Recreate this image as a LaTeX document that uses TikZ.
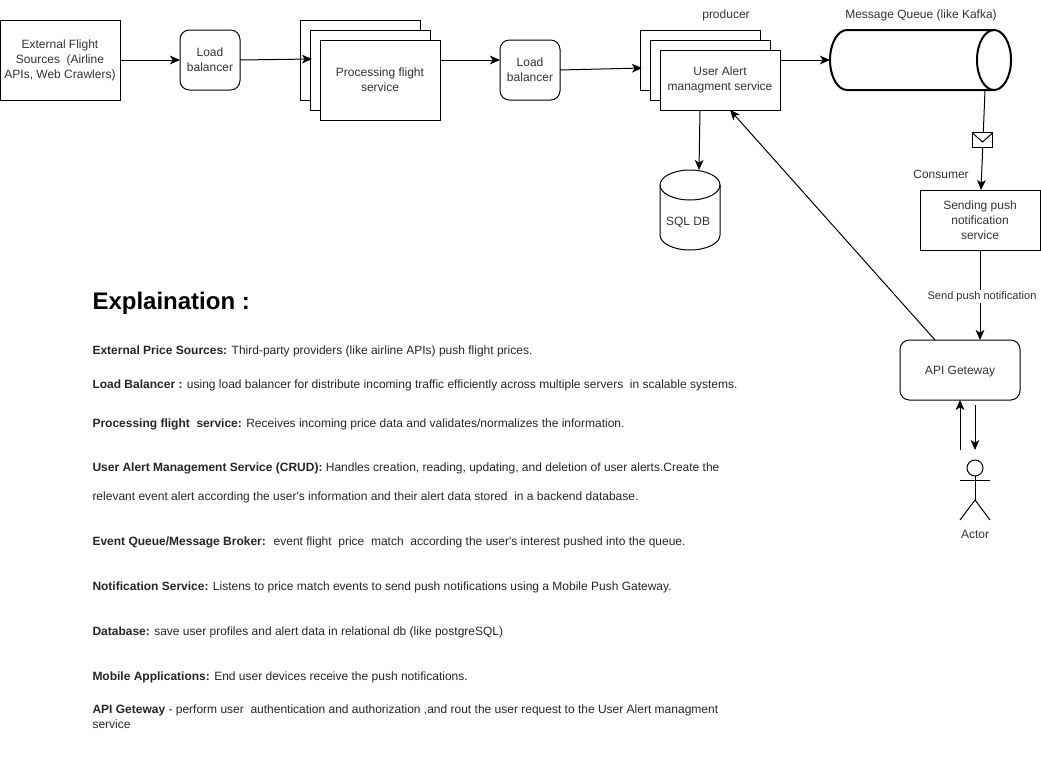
\documentclass[tikz,border=0pt]{standalone}
\usepackage{fontspec}
\setmainfont{Liberation Sans}[Ligatures=TeXOff]
\usetikzlibrary{arrows.meta}
\begin{document}
\begin{tikzpicture}
	    [x=0.75pt, y=-0.75pt, line width=0.75pt, >={Stealth[length=7.5pt,width=6.5pt,inset=2pt]},
	    box/.style={rectangle, draw, fill=white, minimum width=90pt, minimum height=45pt, inner sep=0pt, outer sep=0pt, align=center, font=\fontsize{9}{11.2}\selectfont, text=black!80, execute at begin node={\rule{0pt}{8.5pt}}},
	    tallbox/.style={box, minimum height=60pt},
	    lb/.style={box, rounded corners=7pt, minimum width=45pt, minimum height=45pt},
	    lbl/.style={inner sep=0pt, font=\fontsize{9}{11}\selectfont, text=black!80},
	    expl/.style={anchor=base west, inner sep=0pt, align=left, font=\fontsize{9}{10.9}\selectfont, text=black!85}]
	    \useasboundingbox (0,0) rectangle (1041,764);
	    % top row
	    \node[tallbox]  (ext) at (60,60)    {External Flight\\Sources~ (Airline\\APIs, Web Crawlers)};
	    \node[lb]       (lb1) at (210,60)   {Load\\balancer};
	    \node[tallbox]  (P1)  at (360,60)   {};
	    \node[tallbox]  (P2)  at (370,70)   {};
	    \node[tallbox]  (P3)  at (380,80)   {Processing flight\\service};
	    \node[lb]       (lb2) at (530,70)   {Load\\balancer};
	    \node[box]      (U1)  at (700,60)   {};
	    \node[box]      (U2)  at (710,70)   {};
	    \node[box]      (U3)  at (720,80)   {User Alert\\managment service};
	    \node[box]      (push) at (980,220) {Sending push\\notification\\service};
	    \node[lb, minimum width=90pt] (API) at (960,370) {API Geteway};
	    % queue and database
	    \node[rectangle, minimum width=135pt, minimum height=45pt, inner sep=0pt, outer sep=0pt] (Q) at (920,60) {};
	    \draw[line width=1.5pt] (993,30) -- (847,30) arc[start angle=90, end angle=270, x radius=12.75pt, y radius=22.5pt] -- (993,90);
	    \draw[line width=1.5pt] (994,60) ellipse [x radius=12.75pt, y radius=22.5pt];
	    \node[rectangle, minimum width=45pt, minimum height=60pt, inner sep=0pt, outer sep=0pt] (DB) at (690,210) {};
	    \draw (660,185) -- (660,235) arc[start angle=180, end angle=360, x radius=22.5pt, y radius=11.25pt] -- (720,185);
	    \draw (690,185) ellipse [x radius=22.5pt, y radius=11.25pt];
	    \node[lbl] (dbl) at (688,222) {SQL DB};
	    % free ends
	    \coordinate (lb1out) at (240,60);
	    \coordinate (p2in)   at (312,59);
	    \coordinate (lb2out) at (560,70);
	    \coordinate (u1in)   at (642,68);
	    \coordinate (qout)   at (985,90);
	    \coordinate (pushin) at (981,190);
	    \coordinate (uadown) at (700,110);
	    \coordinate (dbin)   at (699,170);
	    \coordinate (apiout) at (935,340);
	    \coordinate (uain)   at (730,110);
	    \coordinate (upA)    at (960,450);
	    \coordinate (upB)    at (960,400);
	    \coordinate (downA)  at (975,405);
	    \coordinate (downB)  at (975,450);
	    % connectors
	    \draw[->] (ext) -- (lb1);
	    \draw[->] (lb1out) -- (p2in);
	    \draw[->] (P3.east |- lb1) -- (lb2.west |- lb1);
	    \draw[->] (lb2out) -- (u1in);
	    \draw[->] (U3.east |- Q.west) -- (Q.west);
	    \draw[->] (qout) -- (pushin);
	    \draw[->] (uadown) -- (dbin);
	    \draw[->] (apiout) -- (uain);
	    \draw[->] (push) -- (API.north -| push);
	    \draw[->] (upA) -- (upB);
	    \draw[->] (downA) -- (downB);
	    % message on the line
	    \node[rectangle, draw, fill=white, minimum width=15.5pt, minimum height=11pt, inner sep=0pt, outer sep=0pt] (msg) at (982.5,140) {};
	    \draw (msg.north west) -- (982.5,142) -- (msg.north east);
	    % labels
	    \node[lbl] (prod) at (726,15)  {producer};
	    \node[lbl] (qname) at (921,15) {Message Queue (like Kafka)};
	    \node[lbl] (cons) at (941,174) {Consumer};
	    \node[lbl, fill=white, inner sep=1pt, font=\fontsize{8.3}{10}\selectfont] (sendl) at (982,296.5) {Send push notification};
	    % actor
	    \node[circle, draw, minimum size=12pt, inner sep=0pt, outer sep=0pt] (head) at (975,468) {};
	    \coordinate (hip)   at (975,500);
	    \coordinate (armL)  at (960,480);
	    \coordinate (armR)  at (990,480);
	    \coordinate (legL)  at (960,520);
	    \coordinate (legR)  at (990,520);
	    \draw (head) -- (hip);
	    \draw (armL) -- (armR);
	    \draw (legL) -- (hip) -- (legR);
	    \node[lbl] (actor) at (975,534) {Actor};
	    % explanation
	    \node[expl, font=\bfseries\fontsize{18}{22}\selectfont, text=black] (title) at (92,309) {Explaination :};
	    \node[expl] (t1)  at (92,354) {\textbf{External Price Sources:} Third-party providers (like airline APIs) push flight prices.};
	    \node[expl] (t2)  at (92,388) {\textbf{Load Balancer :} using load balancer for distribute incoming traffic efficiently across multiple servers~ in scalable systems.};
	    \node[expl] (t3)  at (92,427) {\textbf{Processing flight~ service:} Receives incoming price data and validates/normalizes the information.};
	    \node[expl] (t4)  at (92,471) {\textbf{User Alert Management Service (CRUD):} Handles creation, reading, updating, and deletion of user alerts.Create the};
	    \node[expl] (t4b) at (92,500) {relevant event alert according the user's information and their alert data stored~ in a backend database.};
	    \node[expl] (t5)  at (92,545) {\textbf{Event Queue/Message Broker:}~ event flight~ price~ match~ according the user's interest pushed into the queue.};
	    \node[expl] (t6)  at (92,590) {\textbf{Notification Service:} Listens to price match events to send push notifications using a Mobile Push Gateway.};
	    \node[expl] (t7)  at (92,635) {\textbf{Database:} save user profiles and alert data in relational db (like postgreSQL)};
	    \node[expl] (t8)  at (92,680) {\textbf{Mobile Applications:} End user devices receive the push notifications.};
	    \node[expl] (t9)  at (92,728.5) {\textbf{API Geteway} - perform user~ authentication and authorization ,and rout the user request to the User Alert managment\\service};
	\end{tikzpicture}
\end{document}
